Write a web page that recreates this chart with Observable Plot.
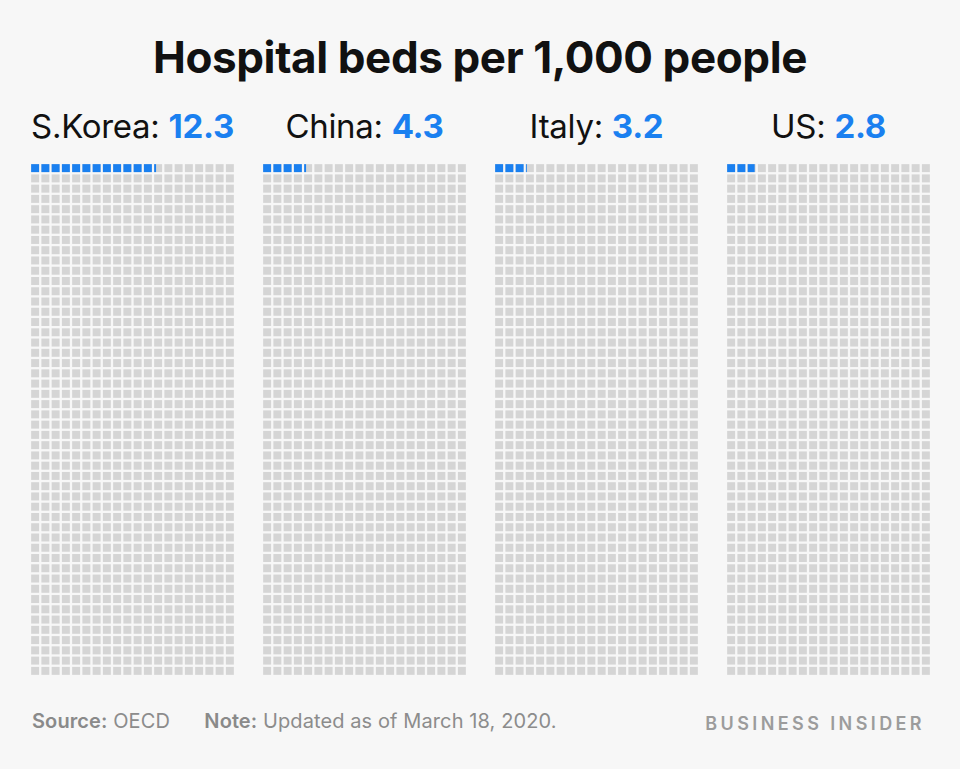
<!DOCTYPE html>
<html>
<head>
<meta charset="utf-8">
<script src="https://cdn.jsdelivr.net/npm/d3@7"></script>
<script src="https://cdn.jsdelivr.net/npm/@observablehq/plot@0.6"></script>
<style>
  html, body { margin: 0; padding: 0; background: #f7f7f7; }
  #wrap { position: relative; width: 960px; height: 769px; background: #f7f7f7; font-family: Inter, Roboto, sans-serif; overflow: hidden; }
  #title { position: absolute; top: 30px; left: 0; width: 960px; text-align: center; font-size: 44px; font-weight: 700; color: #111; letter-spacing: -0.4px; }
  .hdr { position: absolute; top: 106px; text-align: center; font-size: 33px; color: #111; white-space: nowrap; letter-spacing: -0.3px; }
  .hdr b { color: #1a80f0; font-weight: 700; }
  #chart { position: absolute; left: 0; top: 163px; }
  #foot { position: absolute; top: 709px; left: 32px; font-size: 20px; color: #8c8c8c; letter-spacing: 0.1px; word-spacing: 0px; }
  #foot b { font-weight: 600; color: #8a8a8a; }
  #brand { position: absolute; top: 713px; right: 35px; font-size: 18px; font-weight: 600; color: #9c9c9c; letter-spacing: 3.4px; }
</style>
</head>
<body>
<div id="wrap">
  <div id="title">Hospital beds per 1,000 people</div>
  <div id="headers"></div>
  <div id="chart"></div>
  <div id="foot"><b>Source:</b> OECD&nbsp;&nbsp;&nbsp;&nbsp;&nbsp;&nbsp;<b>Note:</b> Updated as of March 18, 2020.</div>
  <div id="brand">BUSINESS INSIDER</div>
</div>
<script>
const countries = ["S.Korea", "China", "Italy", "US"];
const beds = [12.3, 4.3, 3.2, 2.8];
const perPeople = 1000;
const columns = 20;

const rows = perPeople / columns;
const cells = [];
const fullBlue = [];
const partBlue = [];
countries.forEach((c, k) => {
  const v = beds[k];
  for (let i = 0; i < perPeople; i++) {
    const col = i % columns, row = Math.floor(i / columns);
    cells.push({country: c, col, row});
    if (i < Math.floor(v)) fullBlue.push({country: c, col, row});
    else if (i === Math.floor(v) && v - i > 0) partBlue.push({country: c, col, row, frac: v - i});
  }
});

const W = 960, marginLeft = 30, marginRight = 28;
const plot = Plot.plot({
  width: W,
  height: 513,
  marginLeft, marginRight, marginTop: 0, marginBottom: 0,
  style: {background: "transparent"},
  fx: {domain: countries, paddingInner: 0.115, paddingOuter: 0, axis: null, label: null},
  x: {domain: [0, columns], axis: null},
  y: {domain: [0, rows], reverse: true, axis: null},
  marks: [
    Plot.rect(cells, {fx: "country", x1: "col", x2: d => d.col + 1, y1: "row", y2: d => d.row + 1, fill: "#d5d5d5", inset: 1.15}),
    Plot.rect(fullBlue, {fx: "country", x1: "col", x2: d => d.col + 1, y1: "row", y2: d => d.row + 1, fill: "#1a80f0", inset: 1.15}),
    Plot.rect(partBlue, {fx: "country", x1: "col", x2: d => d.col + d.frac, y1: "row", y2: d => d.row + 1, fill: "#1a80f0", insetLeft: 1.15, insetTop: 1.15, insetBottom: 1.15})
  ]
});
document.getElementById("chart").appendChild(plot);

// headers centered above each facet panel
const hdr = document.getElementById("headers");
const fxScale = plot.scale("fx");
countries.forEach((c, k) => {
  const d = document.createElement("div");
  d.className = "hdr";
  const center = fxScale.apply(c) + fxScale.bandwidth / 2;
  d.style.left = (center - 150) + "px";
  d.style.width = "300px";
  d.innerHTML = c + ": <b>" + beds[k] + "</b>";
  hdr.appendChild(d);
});
</script>
</body>
</html>
